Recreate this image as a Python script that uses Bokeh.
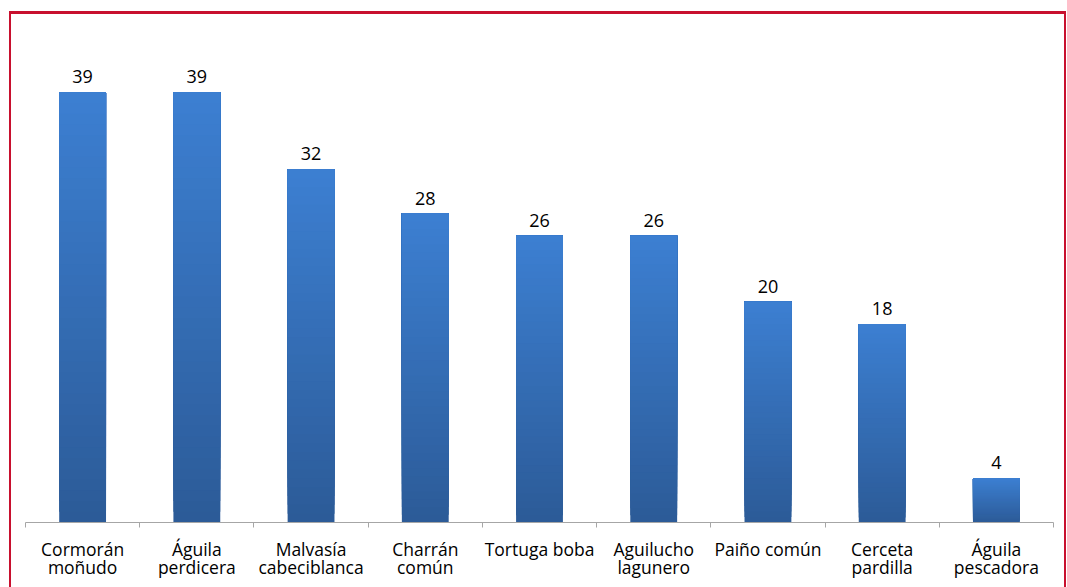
from bokeh.plotting import figure
from bokeh.models import Range1d, FixedTicker, ColumnDataSource
from bokeh.embed import file_html
from bokeh.resources import INLINE

categories = ["Cormorán\nmoñudo", "Águila\nperdicera", "Malvasía\ncabeciblanca", "Charrán\ncomún",
              "Tortuga boba", "Aguilucho\nlagunero", "Paiño común", "Cerceta\npardilla", "Águila\npescadora"]
values = [39, 39, 32, 28, 26, 26, 20, 18, 4]

FONT = "Open Sans"
top_rgb = (0x3C, 0x7F, 0xD1)
bot_rgb = (0x2C, 0x5B, 0x98)
N = 40

n = len(categories)
centers = [i + 0.5 for i in range(n)]
bounds = [float(i) for i in range(n + 1)]

p = figure(frame_width=1028, frame_height=502, output_backend="svg", toolbar_location=None,
           x_range=Range1d(0, n), y_range=Range1d(0, 45.5),
           min_border_left=14, min_border_right=11, min_border_top=6, min_border_bottom=65,
           margin=(11, 0, 0, 9))
p.styles = {"border-top": "3px solid #C8102E", "border-left": "2px solid #C8102E",
            "border-right": "2px solid #C8102E", "box-sizing": "content-box"}
p.outline_line_color = None
p.grid.visible = False
p.yaxis.visible = False
p.background_fill_color = "white"
p.border_fill_color = "white"

# gradient bars: overlapping slices drawn from bottom to top (each slice reaches the bar top)
xs, bots, tops, cols = [], [], [], []
for k in range(N):
    t = k / (N - 1)
    r = round(bot_rgb[0] + (top_rgb[0] - bot_rgb[0]) * t)
    g = round(bot_rgb[1] + (top_rgb[1] - bot_rgb[1]) * t)
    b = round(bot_rgb[2] + (top_rgb[2] - bot_rgb[2]) * t)
    for c, v in zip(centers, values):
        xs.append(c)
        bots.append(v * k / N)
        tops.append(v)
        cols.append("#%02x%02x%02x" % (r, g, b))
src = ColumnDataSource(dict(x=xs, bottom=bots, top=tops, color=cols))
p.vbar(x="x", bottom="bottom", top="top", width=0.41, source=src,
       fill_color="color", line_color=None)

lab = ColumnDataSource(dict(x=centers, y=values, t=[str(v) for v in values]))
p.text(x="x", y="y", text="t", source=lab, text_align="center", text_baseline="bottom",
       y_offset=-9, text_font_size="18px", text_color="#000000", text_font={"value": FONT})

ax = p.xaxis[0]
ax.ticker = FixedTicker(ticks=centers, minor_ticks=bounds)
ax.major_label_overrides = {c: lab_ for c, lab_ in zip(centers, categories)}
ax.major_tick_line_color = None
ax.minor_tick_line_color = "#A6A6A6"
ax.minor_tick_in = 0
ax.minor_tick_out = 5
ax.axis_line_color = "#A6A6A6"
ax.axis_line_width = 1
ax.major_label_text_font = FONT
ax.major_label_text_font_size = "17.5px"
ax.major_label_text_color = "#000000"
ax.major_label_standoff = 8
ax.major_label_text_line_height = 0.79

open("out.html", "w").write(file_html(p, INLINE))
